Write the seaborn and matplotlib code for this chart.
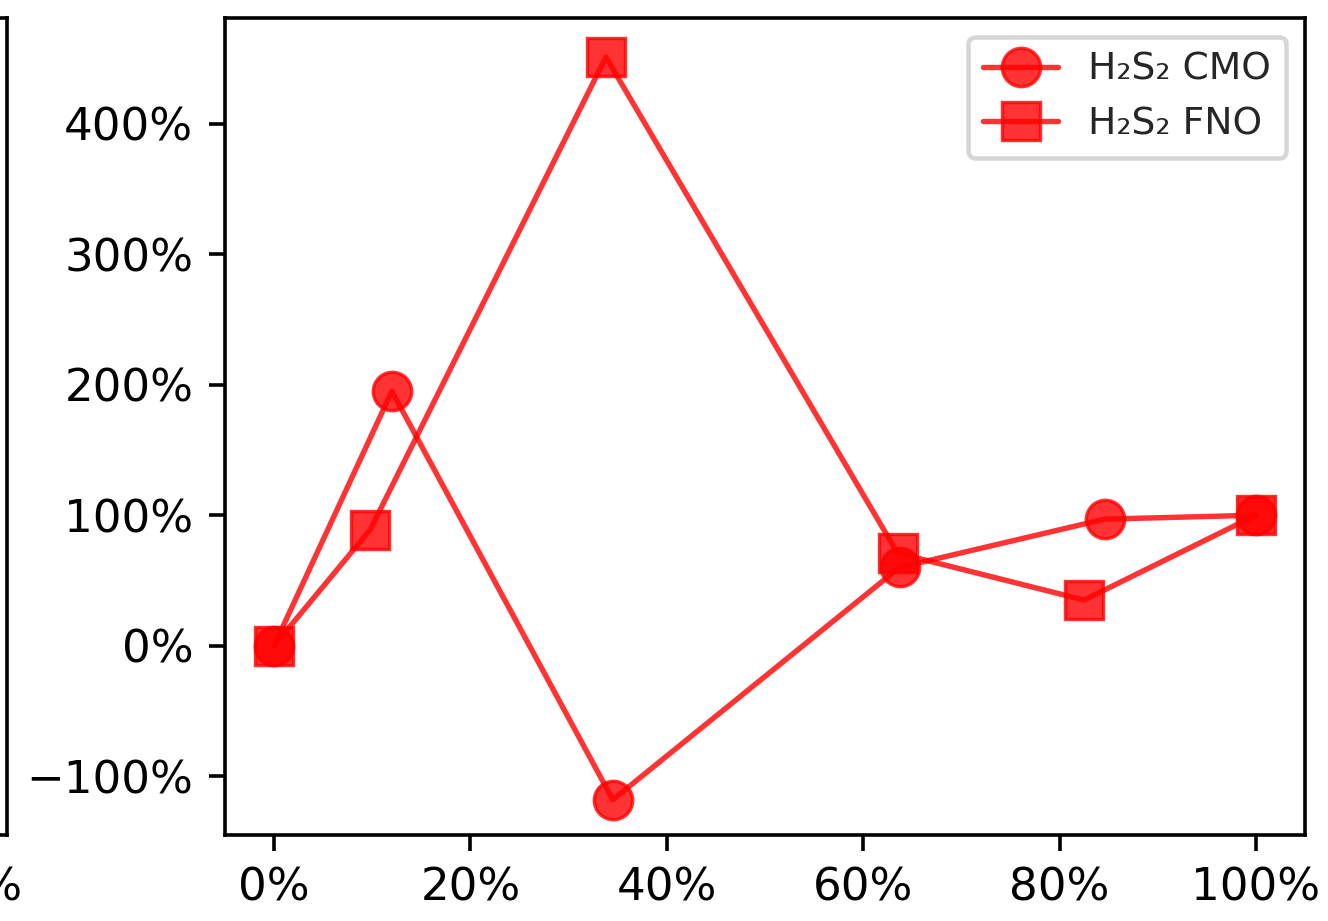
import matplotlib
matplotlib.use("Agg")
import matplotlib.pyplot as plt
import seaborn as sns
from matplotlib.ticker import PercentFormatter

# data (fractions, shown as percent)
cmo_x = [0.0, 0.12, 0.345, 0.637, 0.846, 1.0]
cmo_y = [0.0, 1.95, -1.18, 0.60, 0.97, 1.0]
fno_x = [0.0, 0.098, 0.338, 0.635, 0.825, 1.0]
fno_y = [0.0, 0.89, 4.51, 0.71, 0.35, 1.0]
labels = ["H₂S₂ CMO", "H₂S₂ FNO"]
x_ticks = [0, 0.2, 0.4, 0.6, 0.8, 1.0]
y_ticks = [-1, 0, 1, 2, 3, 4]

DPI = 325

sns.set_style("ticks", {
    "axes.edgecolor": "black",
    "axes.linewidth": 0.8,
    "xtick.color": "black",
    "ytick.color": "black",
    "xtick.direction": "out",
    "ytick.direction": "out",
})
plt.rcParams["font.family"] = ["DejaVu Sans"]
plt.rcParams["font.size"] = 10
plt.rcParams["xtick.major.size"] = 3.5
plt.rcParams["ytick.major.size"] = 3.5
plt.rcParams["xtick.major.width"] = 0.8
plt.rcParams["ytick.major.width"] = 0.8

fig = plt.figure(figsize=(1328 / DPI, 921 / DPI), dpi=DPI)

#
# Neighbouring panel, cut off at the left edge
#
ax0 = fig.add_axes([0.0053 - 0.8133, 0.0934, 0.8133, 0.8871])
ax0.set_xlim(-0.05, 1.05)
ax0.set_ylim(-1.45, 4.81)
ax0.set_xticks(x_ticks)
ax0.xaxis.set_major_formatter(PercentFormatter(1.0, decimals=0))
ax0.yaxis.set_major_formatter(PercentFormatter(1.0, decimals=0))

#
# Main panel
#
ax = fig.add_axes([0.1694, 0.0934, 0.8133, 0.8871])

sns.lineplot(
    x=cmo_x, y=cmo_y, ax=ax, color="red", alpha=0.8,
    marker="o", markersize=8.5, markeredgecolor="red",
    linewidth=1.2, sort=False, label=labels[0],
)
sns.lineplot(
    x=fno_x, y=fno_y, ax=ax, color="red", alpha=0.8,
    marker="s", markersize=8.5, markeredgecolor="red",
    linewidth=1.2, sort=False, label=labels[1],
)

ax.set_xlim(-0.05, 1.05)
ax.set_ylim(-1.45, 4.81)
ax.set_xticks(x_ticks)
ax.set_yticks(y_ticks)
ax.xaxis.set_major_formatter(PercentFormatter(1.0, decimals=0))
ax.yaxis.set_major_formatter(PercentFormatter(1.0, decimals=0))

ax.legend(loc="upper right", fontsize="small")

fig.savefig("out.png", dpi=DPI)
